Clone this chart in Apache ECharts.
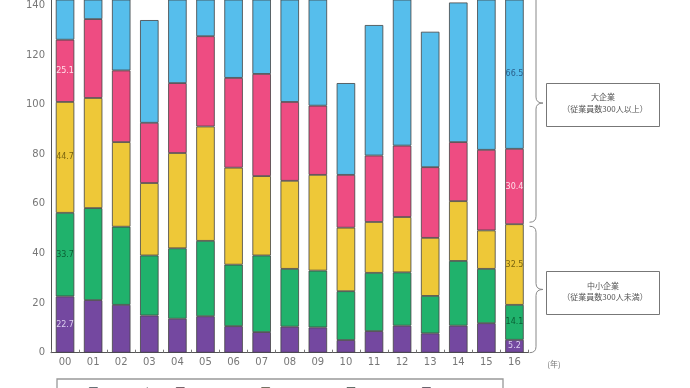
<!DOCTYPE html>
<html><head><meta charset="utf-8">
<script src="https://cdn.jsdelivr.net/npm/echarts@6/dist/echarts.min.js"></script>
<style>html,body{margin:0;padding:0;background:#fff}#c{width:690px;height:388px}</style>
</head><body><div id="c"></div>
<script>
// categories (year, 20xx)
const years = ['00','01','02','03','04','05','06','07','08','09','10','11','12','13','14','15','16'];
// series values (bottom to top)
const s5_29    = [22.7,21.2,19.3,15.0,13.7,14.7,10.7,8.3,10.5,10.2,5.1,8.7,10.9,7.8,10.9,11.9,5.2];
const s30_99   = [33.7,37.1,31.5,24.2,28.4,30.4,24.8,30.9,23.3,22.9,19.7,23.5,21.5,15.1,26.1,21.9,14.1];
const s100_299 = [44.7,44.4,34.1,29.2,38.4,46.1,39.1,32.0,35.5,38.6,25.6,20.5,22.3,23.4,24.1,15.5,32.5];
const s300_999 = [25.1,31.8,28.9,24.3,28.2,36.4,36.2,41.2,31.8,27.9,21.3,26.8,28.8,28.5,23.8,32.5,30.4];
const s1000    = [30.0,25.0,40.0,41.4,40.0,25.0,40.0,40.0,50.0,50.0,37.0,52.6,62.0,54.6,56.3,64.0,66.5];
// series names (legend)
const names = ['1,000人以上','300～999人','100～299人','30～99人','5～29人'];
// y-axis ticks
const yTicks = [0,20,40,60,80,100,120,140];
const yMax = 142.2;

const colors = ['#56BEEC','#EE4C82','#EEC838','#20B26C','#7448A0'];
const labelColors = ['#2a5f8a','#ffe0ea','#7a6410','#0b5e34','#ddd0f0'];
const seriesVals = [s1000, s300_999, s100_299, s30_99, s5_29];
const labelIdx = [[16],[0,16],[0,16],[0,16],[0,16]];

const chart = echarts.init(document.getElementById('c'), null, {renderer:'canvas'});
const GRID = {left:51, right:161.5, top:0, bottom:35.3};

const order = [4,3,2,1,0];
const series = order.map(k => ({
  name: names[k],
  type: 'bar',
  stack: 'all',
  barWidth: 18.5,
  itemStyle: {color: colors[k], borderColor: '#444', borderWidth: 0.8},
  label: {show:false},
  data: seriesVals[k].map((v,i) => ({
    value: v,
    label: labelIdx[k].includes(i) ? {
      show:true, position:'inside', fontSize:8, fontFamily:'DejaVu Sans',
      color: labelColors[k], formatter: () => v.toFixed(1)
    } : {show:false}
  }))
}));

chart.setOption({
  animation:false,
  grid: GRID,
  legend: {
    data: names,
    left: 84, top: 382,
    icon: 'rect', itemWidth: 8, itemHeight: 8, itemGap: 24,
    itemStyle: {borderColor:'#555', borderWidth:0.8},
    textStyle: {fontSize: 9, color:'#666', fontFamily:'Noto Sans CJK JP'}
  },
  xAxis: {
    type:'category', data: years,
    axisLine: {lineStyle:{color:'#555', width:1}},
    axisTick: {show:true, inside:true, length:3, lineStyle:{color:'#777'}},
    axisLabel: {fontSize:10, color:'#777', fontFamily:'DejaVu Sans', margin:5}
  },
  yAxis: {
    type:'value', min:0, max:yMax, interval:20,
    axisLine: {show:true, lineStyle:{color:'#555', width:1}},
    axisTick: {show:false},
    splitLine: {show:false},
    axisLabel: {fontSize:10, color:'#777', fontFamily:'DejaVu Sans', margin:6,
      formatter: v => yTicks.includes(v) ? String(v) : ''}
  },
  series
});

// braces next to bar 16, derived from its segments
const last = years.length - 1;
const b1 = s5_29[last] + s30_99[last] + s100_299[last];
const tot = b1 + s300_999[last] + s1000[last];
const py = v => chart.convertToPixel({gridIndex:0}, [last, v])[1];
const x0 = 690 - GRID.right + 1, x1 = x0 + 6.5, x2 = x0 + 13.5, r = 6;
const bst = {stroke:'#888', fill:null, lineWidth:1};
function brace(yT, yB) {
  const yM = (yT + yB) / 2;
  const bz = (a,b,c,d,e,f) => ({type:'bezierCurve', shape:{x1:a,y1:b,cpx1:c,cpy1:d,x2:e,y2:f}, style:bst});
  const ln = (a,b,c,d) => ({type:'line', shape:{x1:a,y1:b,x2:c,y2:d}, style:bst});
  return [
    bz(x0,yT, x1,yT, x1,yT+r),
    ln(x1,yT+r, x1,yM-r),
    bz(x1,yM-r, x1,yM, x2,yM),
    bz(x2,yM, x1,yM, x1,yM+r),
    ln(x1,yM+r, x1,yB-r),
    bz(x1,yB-r, x1,yB, x0,yB)
  ];
}
const yTop = py(tot), yMid = py(b1), yZero = py(0);
const txt = (x, y, t, size, color) => ({type:'text', x, y, style:{text:t, fontSize:size, fill:color||'#555',
  fontFamily:'Noto Sans CJK JP', align:'center', verticalAlign:'middle'}});
chart.setOption({
  graphic: [
    ...brace(yTop, yMid - 2),
    ...brace(yMid + 2, yZero),
    {type:'rect', shape:{x:546.5, y:83.5, width:113, height:43}, style:{stroke:'#777', fill:'#fff', lineWidth:1}},
    txt(603, 97, '大企業', 8),
    txt(605, 109, '（従業員数300人以上）', 8),
    {type:'rect', shape:{x:546.5, y:271.5, width:113, height:43}, style:{stroke:'#777', fill:'#fff', lineWidth:1}},
    txt(603, 286, '中小企業', 8),
    txt(605, 297, '（従業員数300人未満）', 8),
    txt(554, 364, '(年)', 8, '#777'),
    {type:'rect', shape:{x:57, y:379, width:446, height:30}, style:{stroke:'#999', fill:null, lineWidth:1.3}}
  ]
});
</script></body></html>
